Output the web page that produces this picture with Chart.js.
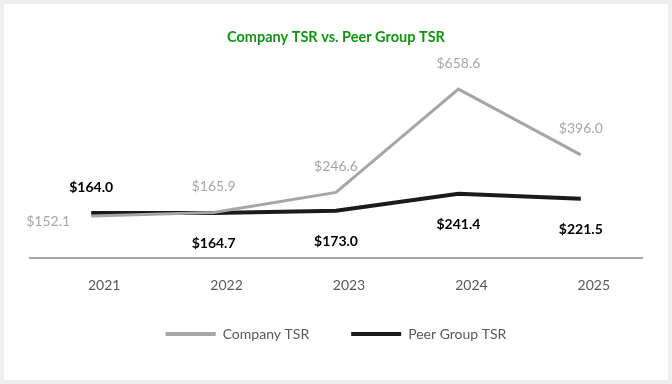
<!DOCTYPE html>
<html>
<head>
<meta charset="utf-8">
<script src="https://cdn.jsdelivr.net/npm/chart.js@4.4.1/dist/chart.umd.min.js"></script>
<style>
  html, body { margin: 0; padding: 0; background: #efefef; }
  #card { position: absolute; left: 4px; top: 4px; width: 664px; height: 376px; background: #fff; }
</style>
</head>
<body>
<div id="card"><canvas id="chart"></canvas></div>
<script>
const years = ['2021', '2022', '2023', '2024', '2025'];
const companyTsr = [152.1, 165.9, 246.6, 658.6, 396.0];
const peerTsr = [164.0, 164.7, 173.0, 241.4, 221.5];
const seriesNames = ['Company TSR', 'Peer Group TSR'];

// where each value label sits relative to its point
const companyLabelPos = ['left', 'above', 'above', 'above', 'above'];
const peerLabelPos = ['above', 'below', 'below', 'below', 'below'];

const FONT = 'Lato, "Open Sans", sans-serif';

const valueLabels = {
  id: 'valueLabels',
  afterDatasetsDraw(chart) {
    const ctx = chart.ctx;
    chart.data.datasets.forEach((ds, i) => {
      const meta = chart.getDatasetMeta(i);
      const opts = ds.valueLabels;
      ctx.save();
      ctx.font = opts.font;
      ctx.fillStyle = opts.color;
      ctx.textAlign = 'center';
      ctx.textBaseline = 'middle';
      meta.data.forEach((pt, j) => {
        let x = pt.x, y = pt.y;
        const pos = opts.positions[j];
        if (pos === 'above') y -= 26;
        else if (pos === 'below') y += 31;
        else if (pos === 'left') { x -= 43; y += 5; }
        ctx.fillText('$' + ds.data[j].toFixed(1), x, y);
      });
      ctx.restore();
    });
  }
};

// the legend sits closer to the axis labels than the default box layout allows
const legendNudge = {
  id: 'legendNudge',
  afterLayout(chart, args, opts) {
    const lg = chart.legend;
    if (!lg) return;
    lg.top -= opts.shift;
    lg.bottom -= opts.shift;
  }
};

new Chart(document.getElementById('chart'), {
  type: 'line',
  data: {
    labels: years,
    datasets: [
      {
        label: seriesNames[0],
        data: companyTsr,
        borderColor: '#a6a6a6',
        backgroundColor: '#a6a6a6',
        borderWidth: 3,
        pointRadius: 0,
        tension: 0,
        valueLabels: { font: '14px ' + FONT, color: '#a6a6a6', positions: companyLabelPos }
      },
      {
        label: seriesNames[1],
        data: peerTsr,
        borderColor: '#1a1a1a',
        backgroundColor: '#1a1a1a',
        borderWidth: 4,
        pointRadius: 0,
        tension: 0,
        valueLabels: { font: 'bold 14px ' + FONT, color: '#000000', positions: peerLabelPos }
      }
    ]
  },
  options: {
    responsive: true,
    maintainAspectRatio: false,
    animation: false,
    layout: { padding: { left: 26, right: 26, top: 0, bottom: 1 } },
    scales: {
      x: {
        offset: true,
        grid: { display: false, drawTicks: false },
        border: { color: '#a6a6a6', width: 2 },
        ticks: { color: '#595959', font: { family: FONT, size: 14 }, padding: 19, labelOffset: 13 }
      },
      y: {
        display: false,
        min: -16,
        max: 805
      }
    },
    plugins: {
      title: {
        display: true,
        text: 'Company TSR vs. Peer Group TSR',
        color: '#129412',
        font: { family: FONT, size: 14.5, weight: 'bold' },
        padding: { top: 25, bottom: 6 }
      },
      legend: {
        position: 'bottom',
        labels: {
          color: '#595959',
          font: { family: FONT, size: 14 },
          boxWidth: 50,
          boxHeight: 4,
          padding: 42,
          generateLabels(chart) {
            return chart.data.datasets.map((ds, i) => ({
              text: ds.label,
              fillStyle: ds.borderColor,
              strokeStyle: ds.borderColor,
              lineWidth: 0,
              fontColor: '#595959',
              datasetIndex: i
            }));
          }
        }
      },
      legendNudge: { shift: 28 },
      tooltip: { enabled: false }
    }
  },
  plugins: [valueLabels, legendNudge]
});
</script>
</body>
</html>
